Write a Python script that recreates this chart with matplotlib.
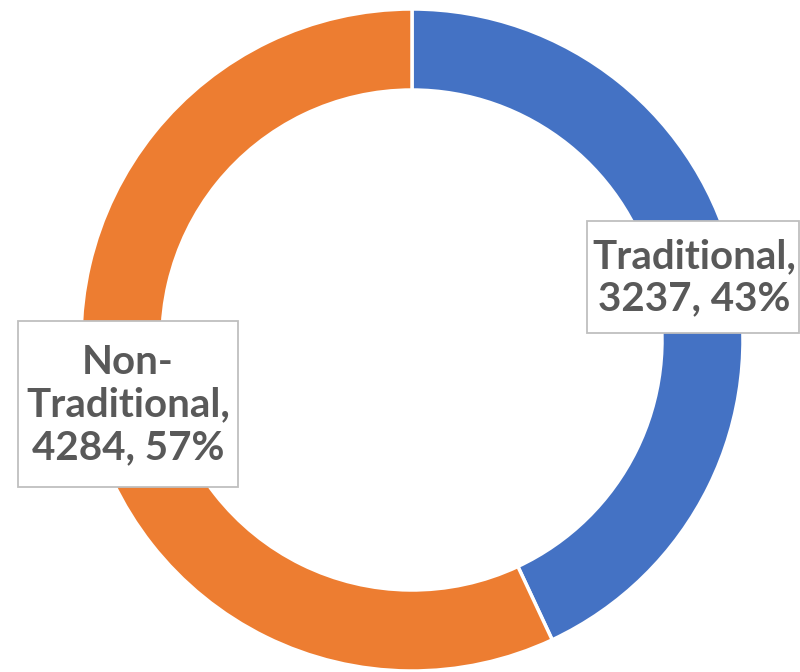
import matplotlib.pyplot as plt
from matplotlib.patches import Rectangle

labels = ['Traditional', 'Non-Traditional']
counts = [3237, 4284]
colors = ['#4472C4', '#ED7D31']

total = sum(counts)
pcts = [round(100 * c / total) for c in counts]

fig = plt.figure(figsize=(8, 6.72), dpi=100)
ax = fig.add_axes([0, 0, 1, 1])

ax.pie(counts, colors=colors, startangle=90, counterclock=False,
       center=(412, 332), radius=331,
       wedgeprops=dict(width=81, edgecolor='white', linewidth=2.5),
       frame=True)
ax.set_xlim(0, 800)
ax.set_ylim(0, 672)
ax.set_aspect('equal')
ax.axis('off')

txt = dict(ha='center', va='center', fontsize=29, fontweight='bold',
           color='#595959', family=['Lato', 'DejaVu Sans'], linespacing=1.18)

# label boxes (pixel coords, y up)
ax.add_patch(Rectangle((587, 339), 212, 112, facecolor='white',
                       edgecolor='#BFBFBF', linewidth=1.3, zorder=3))
ax.text(694, 394, f'{labels[0]},\n{counts[0]}, {pcts[0]}%', zorder=4, **txt)

ax.add_patch(Rectangle((18, 185), 220, 166, facecolor='white',
                       edgecolor='#BFBFBF', linewidth=1.3, zorder=3))
ax.text(128, 267, f'Non-\n{labels[1][4:]},\n{counts[1]}, {pcts[1]}%', zorder=4, **txt)

fig.savefig('out.png', dpi=100)
